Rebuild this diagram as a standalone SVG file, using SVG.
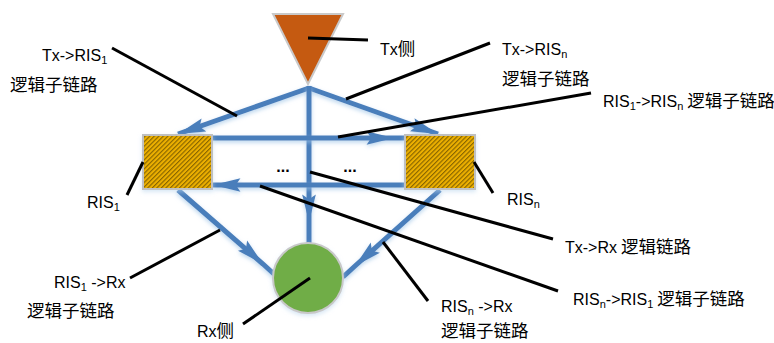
<svg xmlns="http://www.w3.org/2000/svg" width="774" height="343" viewBox="0 0 774 343">
<style>
text{font-family:"Liberation Sans","Noto Sans CJK SC",sans-serif;font-size:16px;fill:#000}
.cn{font-family:"Noto Sans CJK SC",sans-serif;font-size:17.5px}
.sub{font-size:11px}
.link{fill:none;stroke:#4A7EBB;stroke-width:5;filter:url(#glow)}
.lead{stroke:#000;stroke-width:3;fill:none}
</style>
<defs>
<pattern id="hatch" patternUnits="userSpaceOnUse" width="3.2" height="3.2" patternTransform="rotate(45)">
<rect width="3.2" height="3.2" fill="#EDB000"/>
<line x1="0.6" y1="0" x2="0.6" y2="3.2" stroke="#7A5A00" stroke-width="1"/>
</pattern>
<marker id="ah" markerUnits="userSpaceOnUse" markerWidth="30" markerHeight="16" refX="24" refY="7" orient="auto" viewBox="0 0 26 14">
<path d="M0,1 L24,7 L0,13 L4,7 z" fill="#4A7EBB"/>
</marker>
<filter id="glow" filterUnits="userSpaceOnUse" x="0" y="0" width="774" height="343">
<feDropShadow dx="0" dy="2" stdDeviation="2" flood-color="#9DC3E6" flood-opacity="0.7"/>
</filter>
<filter id="soft" x="-20%" y="-20%" width="140%" height="140%">
<feDropShadow dx="0" dy="2" stdDeviation="2" flood-color="#BDD7EE" flood-opacity="0.6"/>
</filter>
</defs>

<g id="connectors">
<path class="link" d="M309,88 L178,134" marker-end="url(#ah)"/>
<path class="link" d="M309,88 L438,134" marker-end="url(#ah)"/>
<path class="link" d="M309,86 L309,222 L309,243" marker-mid="url(#ah)"/>
<path class="link" d="M212,138 L394,138 L405,138" marker-mid="url(#ah)"/>
<path class="link" d="M405,185 L213,185" marker-end="url(#ah)"/>
<path class="link" d="M178,190 L263,264 L275,275" marker-mid="url(#ah)"/>
<path class="link" d="M440,190 L355,266 L343,277" marker-mid="url(#ah)"/>
</g>

<g id="tx">
<polygon points="273,14 343,14 308,84" fill="#C55A11" stroke="#C9C9C9" stroke-width="2"/>
</g>
<g id="ris1">
<rect x="143" y="135" width="69" height="54" fill="url(#hatch)" stroke="#C0C0C0" stroke-width="2" filter="url(#soft)"/>
</g>
<g id="risn">
<rect x="405" y="135" width="70" height="54" fill="url(#hatch)" stroke="#C0C0C0" stroke-width="2" filter="url(#soft)"/>
</g>
<g id="rx">
<circle cx="308" cy="278" r="35" fill="#70AD47" stroke="#C8C8C8" stroke-width="2" filter="url(#soft)"/>
</g>

<g id="dots">
<text x="283" y="172" font-weight="bold" text-anchor="middle">...</text>
<text x="350" y="172" font-weight="bold" text-anchor="middle">...</text>
</g>

<g id="leaders">
<line class="lead" x1="308" y1="38" x2="368" y2="40"/>
<line class="lead" x1="112" y1="48" x2="237" y2="116"/>
<line class="lead" x1="490" y1="43" x2="346" y2="99"/>
<line class="lead" x1="591" y1="93" x2="338" y2="137"/>
<line class="lead" x1="143" y1="162" x2="127" y2="195"/>
<line class="lead" x1="474" y1="162" x2="493" y2="193"/>
<line class="lead" x1="310" y1="172" x2="553" y2="239"/>
<line class="lead" x1="260" y1="186" x2="558" y2="291"/>
<line class="lead" x1="130" y1="278" x2="220" y2="230"/>
<line class="lead" x1="310" y1="278" x2="243" y2="324"/>
<line class="lead" x1="383" y1="242" x2="428" y2="301"/>
</g>

<g id="labels">
<text x="380" y="55">Tx<tspan class="cn">侧</tspan></text>
<text x="42" y="61">Tx-&gt;RIS<tspan class="sub" dy="3">1</tspan></text>
<text x="10" y="91" class="cn">逻辑子链路</text>
<text x="502" y="55">Tx-&gt;RIS<tspan class="sub" dy="3">n</tspan></text>
<text x="502" y="85" class="cn">逻辑子链路</text>
<text x="603" y="107">RIS<tspan class="sub" dy="3">1</tspan><tspan dy="-3">-&gt;RIS</tspan><tspan class="sub" dy="3">n</tspan><tspan class="cn" dy="-3"> 逻辑子链路</tspan></text>
<text x="87" y="208">RIS<tspan class="sub" dy="3">1</tspan></text>
<text x="507" y="205">RIS<tspan class="sub" dy="3">n</tspan></text>
<text x="565" y="253">Tx-&gt;Rx<tspan class="cn"> 逻辑链路</tspan></text>
<text x="573" y="305">RIS<tspan class="sub" dy="3">n</tspan><tspan dy="-3">-&gt;RIS</tspan><tspan class="sub" dy="3">1</tspan><tspan class="cn" dy="-3"> 逻辑子链路</tspan></text>
<text x="54" y="288">RIS<tspan class="sub" dy="3">1</tspan><tspan dy="-3"> -&gt;Rx</tspan></text>
<text x="27" y="317" class="cn">逻辑子链路</text>
<text x="197" y="337">Rx<tspan class="cn">侧</tspan></text>
<text x="441" y="312">RIS<tspan class="sub" dy="3">n</tspan><tspan dy="-3"> -&gt;Rx</tspan></text>
<text x="441" y="337" class="cn">逻辑子链路</text>
</g>
</svg>
